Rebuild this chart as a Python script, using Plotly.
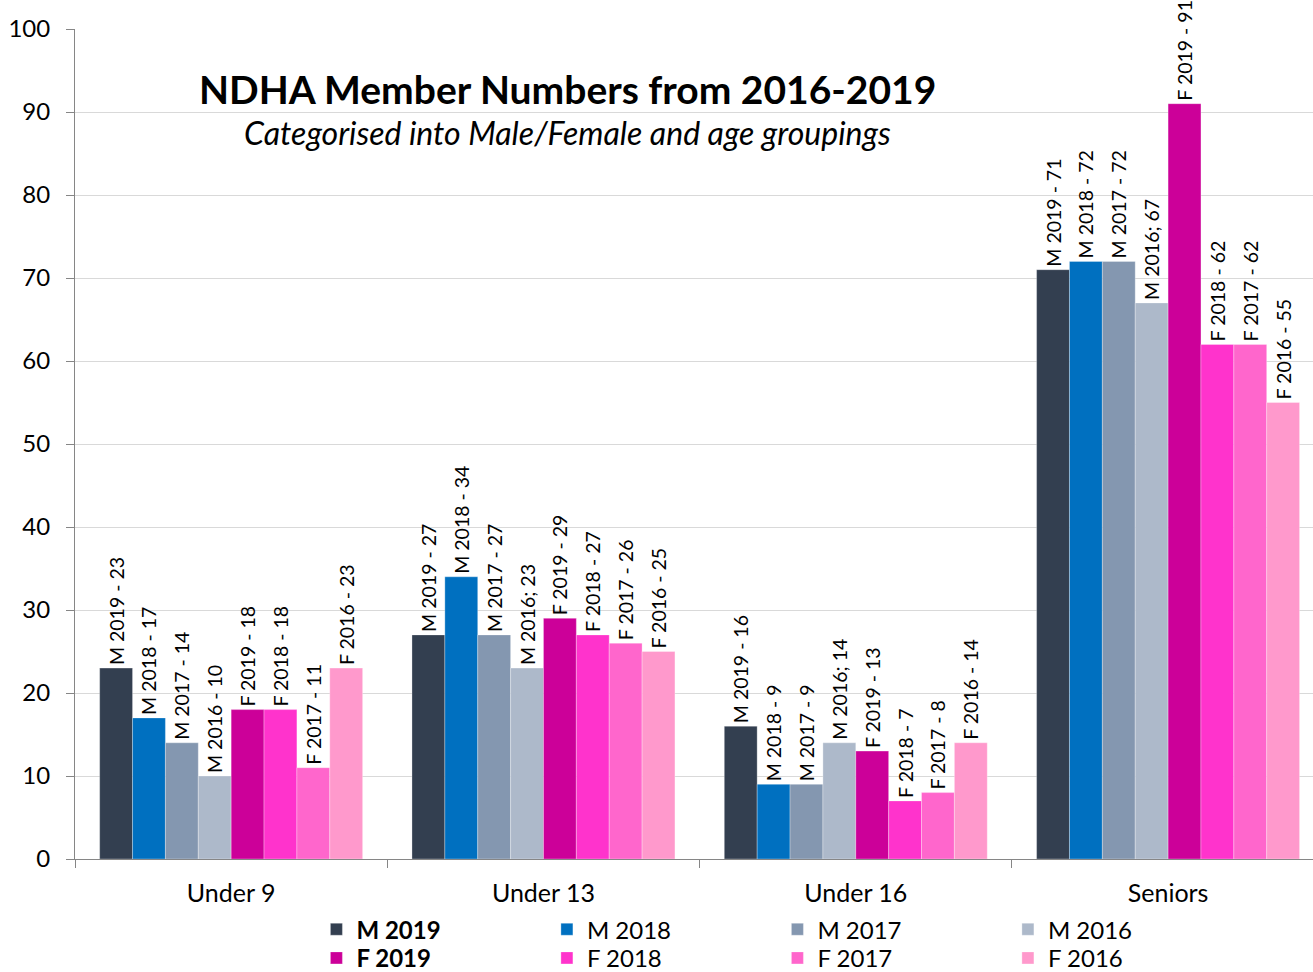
import plotly.graph_objects as go

categories = ["Under 9", "Under 13", "Under 16", "Seniors"]
series_names = ["M 2019", "M 2018", "M 2017", "M 2016", "F 2019", "F 2018", "F 2017", "F 2016"]
legend_labels = ["<b>M 2019</b>", "M 2018", "M 2017", "M 2016", "<b>F 2019</b>", "F 2018", "F 2017", "F 2016"]
m2019 = [23, 27, 16, 71]
m2018 = [17, 34, 9, 72]
m2017 = [14, 27, 9, 72]
m2016 = [10, 23, 14, 67]
f2019 = [18, 29, 13, 91]
f2018 = [18, 27, 7, 62]
f2017 = [11, 26, 8, 62]
f2016 = [23, 25, 14, 55]
values = [m2019, m2018, m2017, m2016, f2019, f2018, f2017, f2016]
# label separators as printed on the chart
label_seps = [
    [" - ", " - ", " - ", " - "],
    [" - ", " - ", " - ", " - "],
    [" - ", " - ", " - ", " - "],
    [" - ", "; ", "; ", "; "],
    [" - ", " - ", " - ", " - "],
    [" - ", " - ", " - ", " - "],
    [" - ", " - ", " - ", " - "],
    [" - ", " - ", " - ", " - "],
]
colors = ["#333F50", "#0070C0", "#8497B0", "#ADB9CA", "#CC0099", "#FF33CC", "#FF66CC", "#FF99CC"]
title_text = "NDHA Member Numbers from 2016-2019"
subtitle_text = "Categorised into Male/Female and age groupings"

FONT = "Lato"

fig = go.Figure()
for i, (name, vals) in enumerate(zip(series_names, values)):
    texts = [f"{name}{sep}{v}" for sep, v in zip(label_seps[i], vals)]
    fig.add_trace(go.Bar(
        x=categories, y=vals, name=legend_labels[i],
        marker=dict(color=colors[i], line=dict(color="rgba(255,255,255,0.6)", width=0.5)),
        text=texts, textposition="outside", textangle=-90,
        textfont=dict(family=FONT, size=19.5, color="black"),
        constraintext="none", cliponaxis=False,
        legend="legend" if i < 4 else "legend2",
    ))

fig.update_layout(
    width=1313, height=972,
    margin=dict(l=75, r=0, t=29, b=113, autoexpand=False),
    paper_bgcolor="white", plot_bgcolor="white",
    barmode="group", bargap=0.158, bargroupgap=0,
    font=dict(family=FONT, size=24, color="black"),
    showlegend=True,
    legend=dict(orientation="h", x=0.195, xanchor="left", y=-0.058, yanchor="top",
                entrywidth=185.5, entrywidthmode="pixels", itemwidth=30,
                font=dict(family=FONT, size=24, color="black"),
                tracegroupgap=0, bgcolor="rgba(0,0,0,0)"),
    legend2=dict(orientation="h", x=0.195, xanchor="left", y=-0.0925, yanchor="top",
                 entrywidth=185.5, entrywidthmode="pixels", itemwidth=30,
                 font=dict(family=FONT, size=24, color="black"),
                 tracegroupgap=0, bgcolor="rgba(0,0,0,0)"),
    xaxis=dict(showline=True, linecolor="#868686", linewidth=1, automargin=False,
               range=[-0.5, 3.464],
               ticks="outside", tickson="boundaries", ticklen=8, tickcolor="#868686",
               tickfont=dict(family=FONT, size=25, color="black"),
               ticklabelstandoff=12, showgrid=False),
    yaxis=dict(range=[0, 100], dtick=10, showline=True, linecolor="#868686", linewidth=1,
               automargin=False,
               ticks="outside", ticklen=8, tickcolor="#868686",
               gridcolor="#D9D9D9", gridwidth=1, zeroline=False,
               tickfont=dict(family=FONT, size=24, color="black"),
               ticklabelstandoff=11),
    annotations=[
        dict(text=f"<b>{title_text}</b>", x=0.398, y=0.928, xref="paper", yref="paper",
             xanchor="center", yanchor="middle", showarrow=False,
             font=dict(family=FONT, size=39, color="black")),
        dict(text=f"<i>{subtitle_text}</i>", x=0.398, y=0.875, xref="paper", yref="paper",
             xanchor="center", yanchor="middle", showarrow=False,
             font=dict(family=FONT, size=32, color="black")),
    ],
)

fig.write_html("out.html", config={"displayModeBar": False},
               post_script="document.body.style.margin='0px';document.body.style.overflow='hidden';")
